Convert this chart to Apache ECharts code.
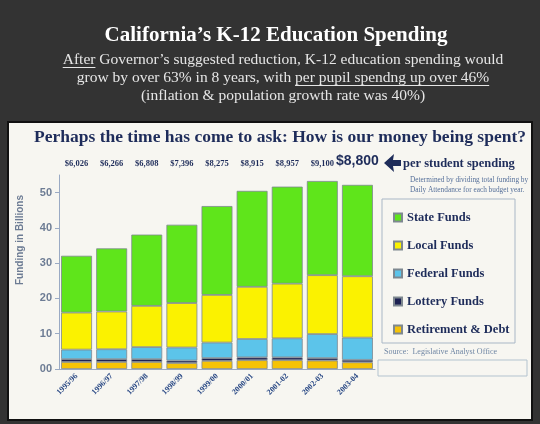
<!DOCTYPE html>
<html>
<head>
<meta charset="utf-8">
<script src="https://cdn.jsdelivr.net/npm/echarts@6/dist/echarts.min.js"></script>
<style>
html, body { margin: 0; padding: 0; background: #333333; }
#main { width: 540px; height: 424px; }
</style>
</head>
<body>
<div id="main"></div>
<script>
// school years on the x axis
var years = ['1995/96', '1996/97', '1997/98', '1998/99', '1999/00', '2000/01', '2001-02', '2002-03', '2003-04'];
// per student spending shown over the bars
var perStudent = ['$6,026', '$6,266', '$6,808', '$7,396', '$8,275', '$8,915', '$8,957', '$9,100', '$8,800'];

// funding in billions, stacked bottom to top
var retirementDebt = [2.0, 2.0, 2.0, 1.7, 2.3, 2.5, 2.5, 2.4, 1.9];
var lotteryFunds = [0.8, 0.8, 0.8, 0.7, 0.8, 0.8, 0.8, 0.7, 0.7];
var federalFunds = [2.7, 2.8, 3.4, 3.7, 4.4, 5.2, 5.4, 6.8, 6.3];
var localFunds = [10.5, 10.7, 11.7, 12.6, 13.5, 14.8, 15.5, 16.7, 17.4];
var stateFunds = [16.1, 17.9, 20.2, 22.2, 25.2, 27.2, 27.5, 26.7, 25.9];

var legendNames = ['State Funds', 'Local Funds', 'Federal Funds', 'Lottery Funds', 'Retirement & Debt'];

var subLine1 = 'After Governor\u2019s suggested reduction, K-12 education spending would';
var subLine2 = 'grow by over 63% in 8 years, with per pupil spendng up over 46%';
var subLine3 = '(inflation & population growth rate was 40%)';

var SERIF = '"Liberation Serif", "DejaVu Serif", serif';
var NAVY = '#1e2c5a';

// measure text so the underlines sit under the right words
var measureCtx = document.createElement('canvas').getContext('2d');
function textWidth(str, font) {
    measureCtx.font = font;
    return measureCtx.measureText(str).width;
}

var subFont = '15.5px ' + SERIF;
var subCx = 283;
var w1 = textWidth(subLine1, subFont);
var l1Start = subCx - w1 / 2;
var wAfter = textWidth('After', subFont);
var w2 = textWidth(subLine2, subFont);
var l2Start = subCx - w2 / 2;
var wPre = textWidth('grow by over 63% in 8 years, with ', subFont);
var wUnder = textWidth('per pupil spendng up over 46%', subFont);

function bar(name, data, color) {
    return {
        name: name,
        type: 'bar',
        stack: 'funds',
        data: data,
        barCategoryGap: '12%',
        itemStyle: {
            color: color,
            borderColor: '#7e8890',
            borderWidth: 0.8
        }
    };
}

var myChart = echarts.init(document.getElementById('main'));

var option = {
    backgroundColor: '#333333',
    animation: false,
    title: {
        text: 'California\u2019s K-12 Education Spending',
        left: 271,
        top: 20,
        textAlign: 'center',
        textStyle: {
            fontFamily: SERIF,
            fontWeight: 'bold',
            fontSize: 21,
            color: '#ffffff'
        }
    },
    grid: {
        left: 59,
        right: 165,
        top: 175,
        bottom: 55
    },
    legend: {
        orient: 'vertical',
        left: 388,
        top: 206,
        itemWidth: 8,
        itemHeight: 8,
        itemGap: 15,
        icon: 'rect',
        data: legendNames,
        textStyle: {
            fontFamily: SERIF,
            fontWeight: 'bold',
            fontSize: 12.5,
            color: NAVY
        }
    },
    xAxis: [
        {
            type: 'category',
            data: years,
            axisLine: { lineStyle: { color: '#9aaac4' } },
            axisTick: { length: 4, lineStyle: { color: '#c8b8d8' } },
            axisLabel: {
                interval: 0,
                rotate: 45,
                margin: 6,
                fontFamily: SERIF,
                fontWeight: 'bold',
                fontSize: 8,
                color: '#2b4a86'
            }
        },
        {
            type: 'category',
            data: perStudent,
            position: 'top',
            axisLine: { show: false },
            axisTick: { show: false },
            axisLabel: {
                interval: 0,
                margin: 7,
                fontFamily: SERIF,
                fontWeight: 'bold',
                fontSize: 8.5,
                color: NAVY,
                formatter: function (v, i) {
                    return i === perStudent.length - 1 ? '{big|' + v + '}' : v;
                },
                rich: {
                    big: {
                        fontFamily: '"Liberation Sans", Arial, sans-serif',
                        fontSize: 14,
                        color: NAVY
                    }
                }
            }
        }
    ],
    yAxis: {
        type: 'value',
        min: 0,
        max: 55,
        interval: 10,
        splitLine: { show: false },
        axisLine: { show: true, lineStyle: { color: '#9aaac4' } },
        axisTick: { show: true, length: 4, lineStyle: { color: '#9aaac4' } },
        axisLabel: {
            showMaxLabel: false,
            margin: 7,
            fontFamily: '"Liberation Sans", Arial, sans-serif',
            fontWeight: 'bold',
            fontSize: 11,
            color: '#6d7c94',
            formatter: function (v) {
                return v === 0 ? '00' : String(v);
            }
        }
    },
    graphic: [
        {
            type: 'rect',
            z: -10,
            shape: { x: 8, y: 122, width: 524, height: 298 },
            style: { fill: '#f7f6f1', stroke: '#111111', lineWidth: 2 }
        },
        {
            type: 'text',
            style: {
                text: subLine1, x: subCx, y: 60, font: subFont, fill: '#e6e6e6',
                align: 'center', verticalAlign: 'middle', textAlign: 'center', textVerticalAlign: 'middle'
            }
        },
        {
            type: 'text',
            style: {
                text: subLine2, x: subCx, y: 78, font: subFont, fill: '#e6e6e6',
                align: 'center', verticalAlign: 'middle', textAlign: 'center', textVerticalAlign: 'middle'
            }
        },
        {
            type: 'text',
            style: {
                text: subLine3, x: subCx, y: 96, font: subFont, fill: '#e6e6e6',
                align: 'center', verticalAlign: 'middle', textAlign: 'center', textVerticalAlign: 'middle'
            }
        },
        {
            type: 'line',
            shape: { x1: l1Start, y1: 67.5, x2: l1Start + wAfter, y2: 67.5 },
            style: { stroke: '#e6e6e6', lineWidth: 1 }
        },
        {
            type: 'line',
            shape: { x1: l2Start + wPre, y1: 85.5, x2: l2Start + wPre + wUnder, y2: 85.5 },
            style: { stroke: '#e6e6e6', lineWidth: 1 }
        },
        {
            type: 'text',
            style: {
                text: 'Perhaps the time has come to ask: How is our money being spent?',
                x: 280, y: 137, font: 'bold 17.5px ' + SERIF, fill: NAVY,
                align: 'center', verticalAlign: 'middle', textAlign: 'center', textVerticalAlign: 'middle'
            }
        },
        {
            type: 'polygon',
            shape: { points: [[384, 163], [394, 154], [393, 160], [401, 160], [401, 166], [393, 166], [394, 172]] },
            style: { fill: NAVY }
        },
        {
            type: 'text',
            style: {
                text: 'per student spending', x: 403, y: 164, font: 'bold 12.5px ' + SERIF, fill: NAVY,
                align: 'left', verticalAlign: 'middle', textAlign: 'left', textVerticalAlign: 'middle'
            }
        },
        {
            type: 'text',
            style: {
                text: 'Determined by dividing total funding by\nDaily Attendance for each budget year.',
                x: 410, y: 175, font: '7.3px ' + SERIF, fill: '#56709a', lineHeight: 10,
                align: 'left', verticalAlign: 'top', textAlign: 'left', textVerticalAlign: 'top'
            }
        },
        {
            type: 'rect',
            shape: { x: 382, y: 199, width: 133, height: 144 },
            style: { fill: 'none', stroke: '#a9b7c6', lineWidth: 1 }
        },
        {
            type: 'text',
            style: {
                text: 'Source:  Legislative Analyst Office', x: 384, y: 352, font: '8px ' + SERIF, fill: '#6f86a4',
                align: 'left', verticalAlign: 'middle', textAlign: 'left', textVerticalAlign: 'middle'
            }
        },
        {
            type: 'rect',
            shape: { x: 378, y: 360, width: 149, height: 16 },
            style: { fill: 'none', stroke: '#b3c3cf', lineWidth: 1 }
        },
        {
            type: 'text',
            rotation: Math.PI / 2,
            x: 20,
            y: 240,
            style: {
                text: 'Funding in Billions', x: 0, y: 0, font: 'bold 10px "Liberation Sans", Arial, sans-serif', fill: '#6d7c94',
                align: 'center', verticalAlign: 'middle', textAlign: 'center', textVerticalAlign: 'middle'
            }
        }
    ],
    series: [
        bar('Retirement & Debt', retirementDebt, '#f6c306'),
        bar('Lottery Funds', lotteryFunds, '#1d2152'),
        bar('Federal Funds', federalFunds, '#5cc4ea'),
        bar('Local Funds', localFunds, '#fbf200'),
        bar('State Funds', stateFunds, '#5fe51b')
    ]
};

myChart.setOption(option);
</script>
</body>
</html>
